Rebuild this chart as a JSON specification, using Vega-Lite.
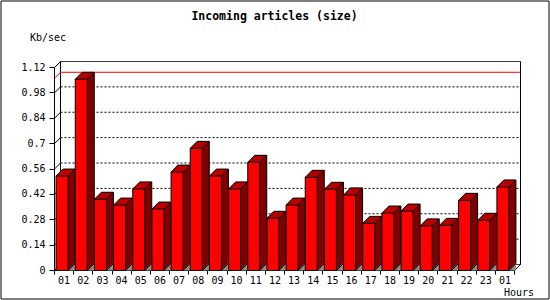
{
  "$schema": "https://vega.github.io/schema/vega-lite/v6.json",
  "width": 548,
  "height": 298,
  "autosize": "none",
  "padding": {"left": 0.5, "top": 0.5, "right": 1.5, "bottom": 1.5},
  "background": "white",
  "title": {
    "text": "Incoming articles (size)",
    "font": "DejaVu Sans Mono",
    "fontSize": 11.5,
    "fontWeight": "bold",
    "color": "black",
    "anchor": "middle",
    "frame": "group",
    "offset": -30.5,
    "baseline": "alphabetic"
  },
  "data": {
    "values": [
      {"hour": "01", "v": 0.521},
      {"hour": "02", "v": 1.055},
      {"hour": "03", "v": 0.393},
      {"hour": "04", "v": 0.361},
      {"hour": "05", "v": 0.45},
      {"hour": "06", "v": 0.339},
      {"hour": "07", "v": 0.543},
      {"hour": "08", "v": 0.674},
      {"hour": "09", "v": 0.521},
      {"hour": "10", "v": 0.45},
      {"hour": "11", "v": 0.597},
      {"hour": "12", "v": 0.288},
      {"hour": "13", "v": 0.361},
      {"hour": "14", "v": 0.514},
      {"hour": "15", "v": 0.448},
      {"hour": "16", "v": 0.417},
      {"hour": "17", "v": 0.26},
      {"hour": "18", "v": 0.317},
      {"hour": "19", "v": 0.328},
      {"hour": "20", "v": 0.246},
      {"hour": "21", "v": 0.249},
      {"hour": "22", "v": 0.387},
      {"hour": "23", "v": 0.277},
      {"hour": "01 ", "v": 0.461}
    ]
  },
  "encoding": {
    "x": {
      "field": "hour",
      "type": "nominal",
      "scale": {
        "domain": ["01","02","03","04","05","06","07","08","09","10","11","12","13","14","15","16","17","18","19","20","21","22","23","01 "],
        "range": [60, 520],
        "paddingInner": 0,
        "paddingOuter": 0
      },
      "axis": {
        "title": "Hours",
        "titleAnchor": "end",
        "titleAlign": "right",
        "titleBaseline": "alphabetic",
        "titleX": 539.5,
        "titleY": 25.5,
        "labelAngle": 0,
        "labelExpr": "trim(datum.label)",
        "tickBand": "extent",
        "tickSize": 4,
        "labelPadding": 1,
        "offset": -22,
        "translate": -6,
        "grid": false
      }
    },
    "y": {
      "field": "v",
      "type": "quantitative",
      "scale": {"domain": [0, 1.12], "range": [264, 61], "nice": false, "zero": true},
      "axis": {
        "title": "Kb/sec",
        "titleAngle": 0,
        "titleAlign": "left",
        "titleBaseline": "alphabetic",
        "titleX": -24.5,
        "titleY": 34,
        "values": [0, 0.14, 0.28, 0.42, 0.56, 0.7, 0.84, 0.98, 1.12],
        "format": ".3~g",
        "tickSize": 5,
        "labelPadding": 4,
        "offset": -48,
        "translate": 6,
        "grid": false
      }
    }
  },
  "layer": [
    {
      "data": {"values": [{"t": 0}, {"t": 0.14}, {"t": 0.28}, {"t": 0.42}, {"t": 0.56}, {"t": 0.7}, {"t": 0.84}, {"t": 0.98}, {"t": 1.12}]},
      "mark": {"type": "rule", "color": "black", "strokeWidth": 1, "xOffset": -9.583, "x2Offset": 9.583},
      "encoding": {
        "x": {"datum": "01", "type": "nominal"},
        "x2": {"datum": "01 "},
        "y": {"field": "t", "type": "quantitative"},
        "strokeDash": {"condition": {"test": "datum.t == 1.12 || datum.t == 0", "value": [1, 0]}, "value": [2, 2]}
      }
    },
    {
      "data": {"values": [{"t": 0}, {"t": 0.14}, {"t": 0.28}, {"t": 0.42}, {"t": 0.56}, {"t": 0.7}, {"t": 0.84}, {"t": 0.98}, {"t": 1.12}]},
      "mark": {"type": "rule", "color": "black", "strokeWidth": 1, "xOffset": -9.583, "x2Offset": -15.583, "y2Offset": 6},
      "encoding": {
        "x": {"datum": "01", "type": "nominal"},
        "x2": {"datum": "01"},
        "y": {"field": "t", "type": "quantitative"},
        "y2": {"field": "t"}
      }
    },
    {
      "data": {"values": [{"t": 1.12}]},
      "mark": {"type": "rule", "color": "black", "strokeWidth": 1, "xOffset": -9.583},
      "encoding": {
        "x": {"datum": "01", "type": "nominal"},
        "y": {"field": "t", "type": "quantitative"},
        "y2": {"datum": 0}
      }
    },
    {
      "data": {"values": [{"t": 1.12}]},
      "mark": {"type": "rule", "color": "black", "strokeWidth": 1, "xOffset": 9.583},
      "encoding": {
        "x": {"datum": "01 ", "type": "nominal"},
        "y": {"field": "t", "type": "quantitative"},
        "y2": {"datum": 0}
      }
    },
    {
      "data": {"values": [{"t": 0}]},
      "mark": {"type": "rule", "color": "black", "strokeWidth": 1, "xOffset": 9.583, "x2Offset": 3.583, "y2Offset": 6},
      "encoding": {
        "x": {"datum": "01 ", "type": "nominal"},
        "x2": {"datum": "01 "},
        "y": {"field": "t", "type": "quantitative"},
        "y2": {"field": "t"}
      }
    },
    {
      "transform": [{"aggregate": [{"op": "max", "field": "v", "as": "vmax"}]}],
      "mark": {"type": "rule", "color": "#ff0000", "strokeWidth": 1, "xOffset": -9.583, "x2Offset": 9.583, "yOffset": -1},
      "encoding": {
        "x": {"datum": "01", "type": "nominal"},
        "x2": {"datum": "01 "},
        "y": {"field": "vmax", "type": "quantitative"}
      }
    },
    {
      "transform": [{"aggregate": [{"op": "max", "field": "v", "as": "vmax"}]}],
      "mark": {"type": "rule", "color": "#ff0000", "strokeWidth": 1, "xOffset": -9.583, "x2Offset": -15.583, "yOffset": -1, "y2Offset": 5},
      "encoding": {
        "x": {"datum": "01", "type": "nominal"},
        "x2": {"datum": "01"},
        "y": {"field": "vmax", "type": "quantitative"},
        "y2": {"field": "vmax"}
      }
    },
    {
      "mark": {"type": "bar", "color": "#8c8c8c", "width": 7, "xOffset": 1.5, "yOffset": -1, "y2Offset": 6},
      "encoding": {"y": {"datum": 0, "type": "quantitative"}, "y2": {"datum": 0}}
    },
    {"mark": {"type": "bar", "color": "#800000", "width": 12, "xOffset": -7, "yOffset": 5, "y2Offset": 5}, "encoding": {"y2": {"datum": 0}}},
    {"mark": {"type": "bar", "color": "#800000", "width": 12, "xOffset": -6, "yOffset": 4, "y2Offset": 4}, "encoding": {"y2": {"datum": 0}}},
    {"mark": {"type": "bar", "color": "#800000", "width": 12, "xOffset": -5, "yOffset": 3, "y2Offset": 3}, "encoding": {"y2": {"datum": 0}}},
    {"mark": {"type": "bar", "color": "#800000", "width": 12, "xOffset": -4, "yOffset": 2, "y2Offset": 2}, "encoding": {"y2": {"datum": 0}}},
    {"mark": {"type": "bar", "color": "#800000", "width": 12, "xOffset": -3, "yOffset": 1, "y2Offset": 1}, "encoding": {"y2": {"datum": 0}}},
    {"mark": {"type": "bar", "color": "#800000", "width": 12, "xOffset": -2, "yOffset": 0, "y2Offset": 0}, "encoding": {"y2": {"datum": 0}}},
    {"mark": {"type": "bar", "color": "#800000", "width": 12, "xOffset": -1, "yOffset": -1, "y2Offset": -1}, "encoding": {"y2": {"datum": 0}}},
    {"mark": {"type": "bar", "color": "#c00000", "width": 12, "xOffset": -7.5, "yOffset": 5, "y2Offset": 6}, "encoding": {"y2": {"field": "v"}}},
    {"mark": {"type": "bar", "color": "#c00000", "width": 12, "xOffset": -6.5, "yOffset": 4, "y2Offset": 5}, "encoding": {"y2": {"field": "v"}}},
    {"mark": {"type": "bar", "color": "#c00000", "width": 12, "xOffset": -5.5, "yOffset": 3, "y2Offset": 4}, "encoding": {"y2": {"field": "v"}}},
    {"mark": {"type": "bar", "color": "#c00000", "width": 12, "xOffset": -4.5, "yOffset": 2, "y2Offset": 3}, "encoding": {"y2": {"field": "v"}}},
    {"mark": {"type": "bar", "color": "#c00000", "width": 12, "xOffset": -3.5, "yOffset": 1, "y2Offset": 2}, "encoding": {"y2": {"field": "v"}}},
    {"mark": {"type": "bar", "color": "#c00000", "width": 12, "xOffset": -2.5, "yOffset": 0, "y2Offset": 1}, "encoding": {"y2": {"field": "v"}}},
    {"mark": {"type": "bar", "color": "#c00000", "width": 12, "xOffset": -1.5, "yOffset": -1, "y2Offset": 0}, "encoding": {"y2": {"field": "v"}}},
    {
      "mark": {"type": "rule", "color": "black", "strokeWidth": 1, "xOffset": -14, "x2Offset": -7, "yOffset": 6, "y2Offset": -1},
      "encoding": {"x2": {"field": "hour"}, "y2": {"field": "v"}}
    },
    {
      "mark": {"type": "rule", "color": "black", "strokeWidth": 1, "xOffset": -2, "x2Offset": 5, "yOffset": 6, "y2Offset": -1},
      "encoding": {"x2": {"field": "hour"}, "y2": {"field": "v"}}
    },
    {
      "mark": {"type": "rule", "color": "black", "strokeWidth": 1, "xOffset": -7, "x2Offset": 5, "yOffset": -1, "y2Offset": -1},
      "encoding": {"x2": {"field": "hour"}, "y2": {"field": "v"}}
    },
    {
      "mark": {"type": "rule", "color": "black", "strokeWidth": 1, "xOffset": 5, "yOffset": -1, "y2Offset": -1},
      "encoding": {"y2": {"datum": 0}}
    },
    {
      "mark": {"type": "rule", "color": "black", "strokeWidth": 1, "xOffset": -2, "x2Offset": 5, "yOffset": 6, "y2Offset": -1},
      "encoding": {"x2": {"field": "hour"}, "y": {"datum": 0, "type": "quantitative"}, "y2": {"datum": 0}}
    },
    {
      "mark": {"type": "bar", "fill": "#ff0000", "stroke": "black", "strokeWidth": 1, "width": 12, "xOffset": -8, "yOffset": 6, "y2Offset": 6},
      "encoding": {"y2": {"datum": 0}}
    }
  ],
  "config": {
    "view": {"stroke": "black", "strokeWidth": 1, "fill": "white"},
    "axis": {
      "labelFont": "DejaVu Sans Mono",
      "labelFontSize": 10,
      "labelColor": "black",
      "titleFont": "DejaVu Sans Mono",
      "titleFontSize": 10,
      "titleFontWeight": "normal",
      "titleColor": "black",
      "domainColor": "black",
      "tickColor": "black",
      "grid": false
    }
  }
}
